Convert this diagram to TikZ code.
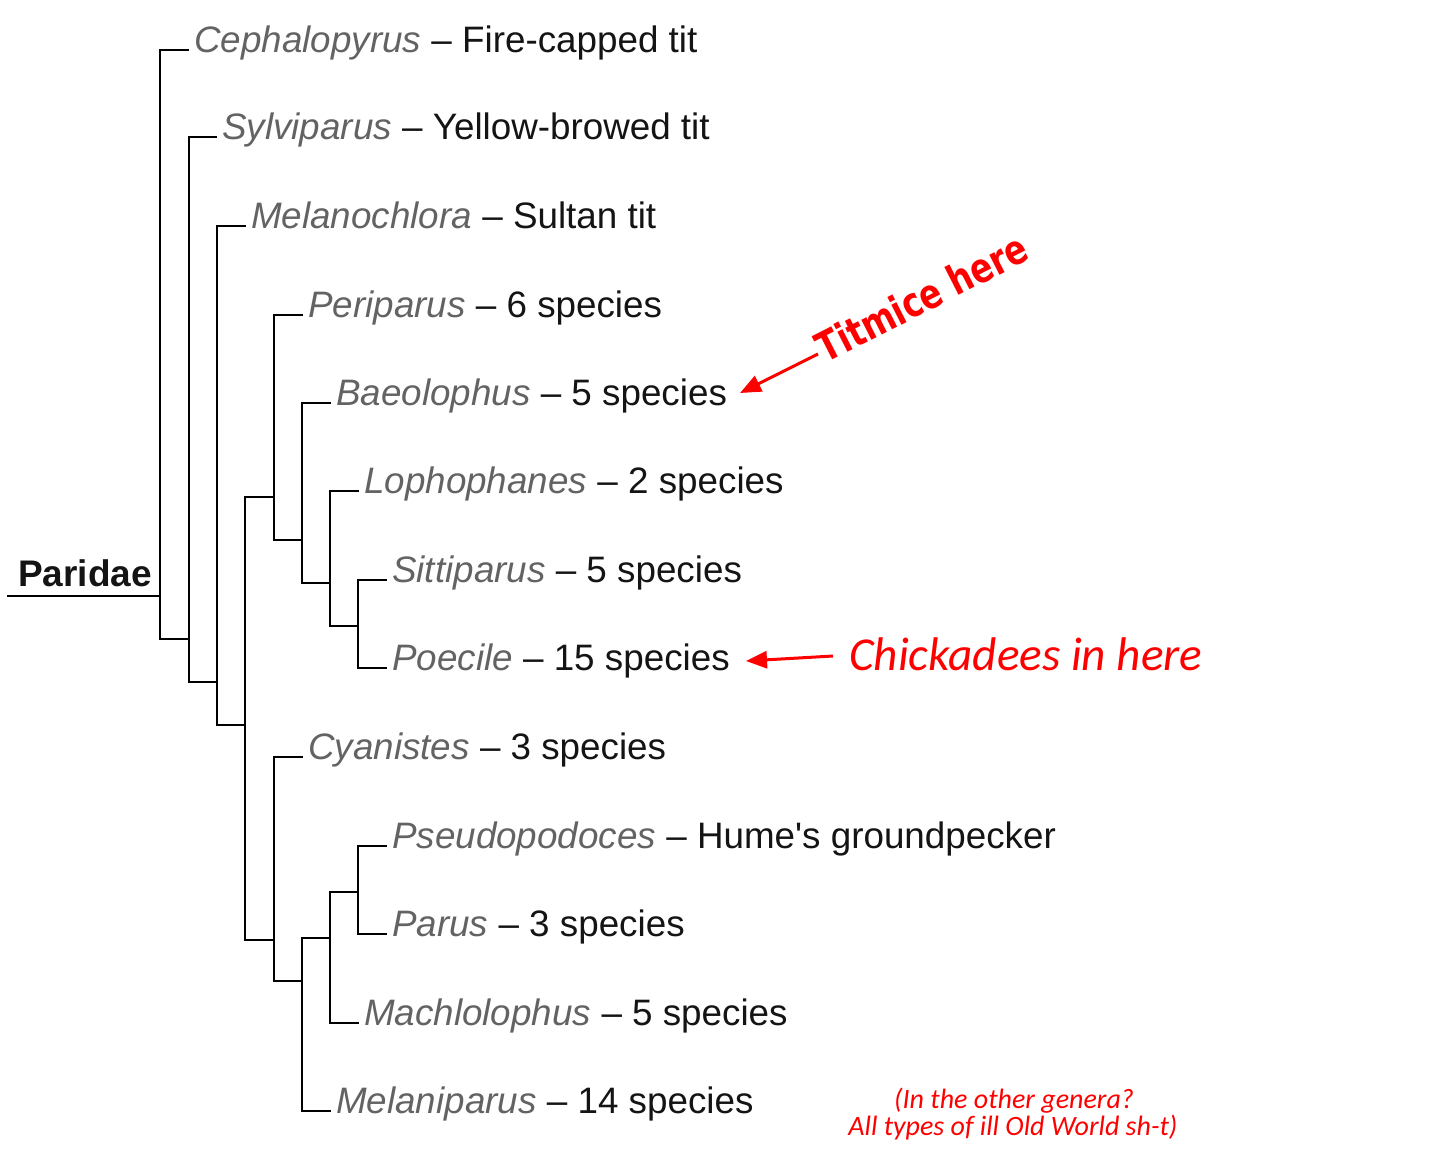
\documentclass[tikz,border=0pt]{standalone}
\usepackage{fontspec}
\setmainfont{Liberation Sans}
\newfontfamily\notefont{Carlito}
\newfontfamily\titfont{DejaVu Sans}
\usetikzlibrary{arrows.meta}
\definecolor{genusgray}{HTML}{636363}
\definecolor{labelblack}{HTML}{141414}
\definecolor{annred}{HTML}{FF0000}
\newcommand{\gname}[1]{{\color{genusgray}\itshape #1}}
\begin{document}
\begin{tikzpicture}[x=1pt,y=-1pt,
  branch/.style={line width=2.2pt, draw=black, line cap=rect},
  leaflabel/.style={anchor=base west, inner sep=0pt, text=labelblack,
    font=\fontsize{36.8}{43}\selectfont},
  annarrow/.style={line width=3pt, draw=annred,
    -{Triangle[length=21pt,width=17pt]}},
  notetext/.style={anchor=base, inner sep=0pt, text=annred,
    font=\notefont\itshape\fontsize{28}{30}\selectfont}]
\useasboundingbox (0,0) rectangle (1456,1160);

% root
\coordinate (root) at (8,596);
% internal nodes (x of vertical bar, y where it joins its parent)
\coordinate (n1) at (160,596);
\coordinate (n2) at (189,639);
\coordinate (n3) at (217,682);
\coordinate (n4) at (245,725);
\coordinate (n5) at (274,497);
\coordinate (n6) at (302,540);
\coordinate (n7) at (330,583);
\coordinate (n8) at (358,626);
\coordinate (n9) at (274,940);
\coordinate (n10) at (302,981);
\coordinate (n11) at (330,938);
\coordinate (n12) at (358,892);
% leaf ends
\coordinate (l1) at (188,50);
\coordinate (l2) at (216,137);
\coordinate (l3) at (245,226);
\coordinate (l4) at (302,315);
\coordinate (l5) at (330,403);
\coordinate (l6) at (358,491);
\coordinate (l7) at (386,580);
\coordinate (l8) at (386,668);
\coordinate (l9) at (302,757);
\coordinate (l10) at (386,846);
\coordinate (l11) at (386,934);
\coordinate (l12) at (358,1023);
\coordinate (l13) at (330,1111);

% branches
\draw[branch] (root) -- (n1);
\draw[branch] (n1) |- (l1);
\draw[branch] (n1) |- (n2);
\draw[branch] (n2) |- (l2);
\draw[branch] (n2) |- (n3);
\draw[branch] (n3) |- (l3);
\draw[branch] (n3) |- (n4);
\draw[branch] (n4) |- (n5);
\draw[branch] (n4) |- (n9);
\draw[branch] (n5) |- (l4);
\draw[branch] (n5) |- (n6);
\draw[branch] (n6) |- (l5);
\draw[branch] (n6) |- (n7);
\draw[branch] (n7) |- (l6);
\draw[branch] (n7) |- (n8);
\draw[branch] (n8) |- (l7);
\draw[branch] (n8) |- (l8);
\draw[branch] (n9) |- (l9);
\draw[branch] (n9) |- (n10);
\draw[branch] (n10) |- (n11);
\draw[branch] (n10) |- (l13);
\draw[branch] (n11) |- (n12);
\draw[branch] (n11) |- (l12);
\draw[branch] (n12) |- (l10);
\draw[branch] (n12) |- (l11);

% root label
\node[anchor=base west, inner sep=0pt, text=labelblack,
  font=\bfseries\fontsize{37}{43}\selectfont] (paridae) at (18,586) {Paridae};

% leaf labels
\node[leaflabel] (t1) at ([shift={(6,2.5)}]l1) {\gname{Cephalopyrus} – Fire-capped tit};
\node[leaflabel] (t2) at ([shift={(6,2.5)}]l2) {\gname{Sylviparus} – Yellow-browed tit};
\node[leaflabel] (t3) at ([shift={(6,2.5)}]l3) {\gname{Melanochlora} – Sultan tit};
\node[leaflabel] (t4) at ([shift={(6,2.5)}]l4) {\gname{Periparus} – 6 species};
\node[leaflabel] (t5) at ([shift={(6,2.5)}]l5) {\gname{Baeolophus} – 5 species};
\node[leaflabel] (t6) at ([shift={(6,2.5)}]l6) {\gname{Lophophanes} – 2 species};
\node[leaflabel] (t7) at ([shift={(6,2.5)}]l7) {\gname{Sittiparus} – 5 species};
\node[leaflabel] (t8) at ([shift={(6,2.5)}]l8) {\gname{Poecile} – 15 species};
\node[leaflabel] (t9) at ([shift={(6,2.5)}]l9) {\gname{Cyanistes} – 3 species};
\node[leaflabel] (t10) at ([shift={(6,2.5)}]l10) {\gname{Pseudopodoces} – Hume\textquotesingle s groundpecker};
\node[leaflabel] (t11) at ([shift={(6,2.5)}]l11) {\gname{Parus} – 3 species};
\node[leaflabel] (t12) at ([shift={(6,2.5)}]l12) {\gname{Machlolophus} – 5 species};
\node[leaflabel] (t13) at ([shift={(6,2.5)}]l13) {\gname{Melaniparus} – 14 species};

% annotations
\node[rotate=27, anchor=base west, inner sep=0pt, text=annred,
  font=\titfont\bfseries\fontsize{41}{44}\selectfont] (titmice) at (825,364)
  {\scalebox{0.8}[1]{Titmice here}};
\coordinate (titstart) at (818,354);
\coordinate (tittip) at (740,393);
\draw[annarrow] (titstart) -- (tittip);

\node[anchor=base west, inner sep=0pt, text=annred,
  font=\notefont\itshape\fontsize{47.2}{50}\selectfont] (chick) at (849,670)
  {Chickadees in here};
\coordinate (chstart) at (833,656);
\coordinate (chtip) at (746,661);
\draw[annarrow] (chstart) -- (chtip);

\node[notetext] (note1) at (1014,1108) {(In the other genera?};
\node[notetext] (note2) at (1013,1135) {All types of ill Old World sh-t)};
\end{tikzpicture}
\end{document}
